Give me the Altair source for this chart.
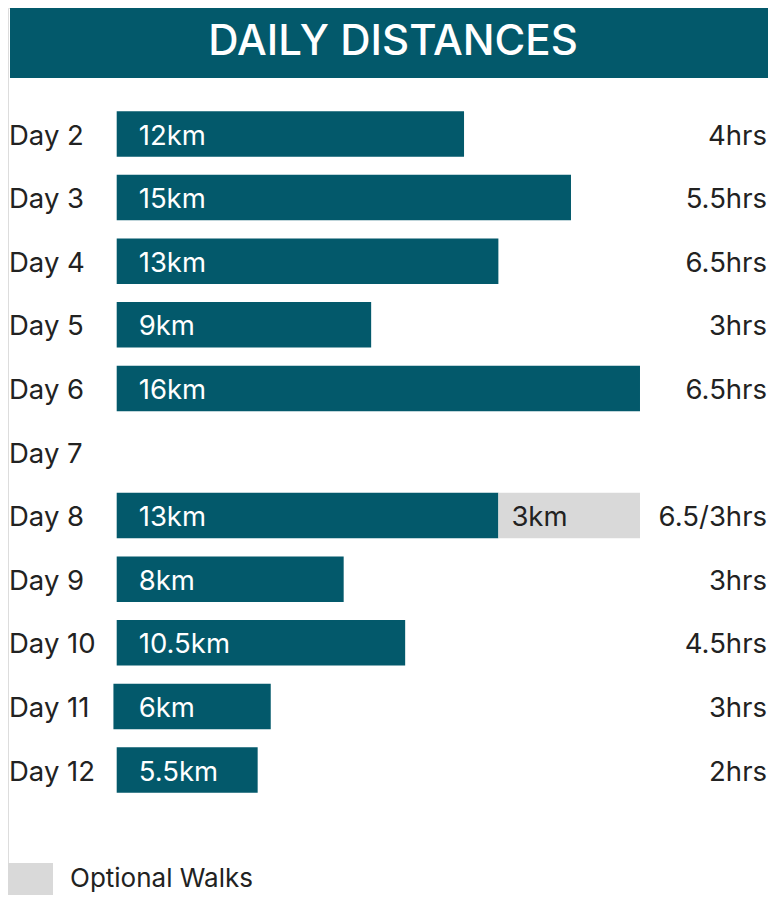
import altair as alt
import pandas as pd

# ---- data ----
days = ["Day 2", "Day 3", "Day 4", "Day 5", "Day 6", "Day 7",
        "Day 8", "Day 9", "Day 10", "Day 11", "Day 12"]
km_labels = ["12km", "15km", "13km", "9km", "16km", "",
             "13km", "8km", "10.5km", "6km", "5.5km"]
# drawn bar lengths (as drawn in the original, in km-like units)
bar_start = [0, 0, 0, 0, 0, 0, 0, 0, 0, -0.1, 0]
bar_length = [10.62, 13.89, 11.67, 7.78, 16.0, 0, 11.67, 6.94, 8.82, 4.81, 4.31]
optional_length = [0, 0, 0, 0, 0, 0, 4.33, 0, 0, 0, 0]
optional_labels = ["", "", "", "", "", "", "3km", "", "", "", ""]
hours = ["4hrs", "5.5hrs", "6.5hrs", "3hrs", "6.5hrs", "",
         "6.5/3hrs", "3hrs", "4.5hrs", "3hrs", "2hrs"]
title_text = "DAILY DISTANCES"
legend_label = "Optional Walks"

TEAL = "#03596b"
GREY = "#d9d9d9"
TXT = "#222222"
FONT = "Inter"

df = pd.DataFrame({
    "day": days,
    "km": km_labels,
    "start": bar_start,
    "end": [s + l for s, l in zip(bar_start, bar_length)],
    "opt_end": [s + l + o for s, l, o in zip(bar_start, bar_length, optional_length)],
    "opt": optional_length,
    "opt_label": optional_labels,
    "hours": hours,
})
bars_df = df[df["end"] > df["start"]]
opt_df = df[df["opt"] > 0]
one = pd.DataFrame({"t": [title_text], "l": [legend_label]})

W, H = 760, 887
# value 0 at chart x 108.7, 32.706 px per unit
x0, ppu = 108.7, 32.706
xscale = alt.Scale(domain=[-x0 / ppu, (W - x0) / ppu], nice=False, zero=False)
yscale = alt.Scale(domain=days, range=[94.2, 793.8], paddingInner=0.285, paddingOuter=0.1425)
X = lambda f: alt.X(f, type="quantitative", scale=xscale, axis=None)
Y = alt.Y("day:N", scale=yscale, axis=None, sort=days)

banner = alt.Chart(one).mark_rect(color=TEAL).encode(
    x=alt.value(2), x2=alt.value(W), y=alt.value(0), y2=alt.value(70))
title = alt.Chart(one).mark_text(
    color="white", font=FONT, fontSize=42, fontWeight=500, align="center",
    baseline="alphabetic").encode(x=alt.value(385), y=alt.value(47), text="t:N")

bars = alt.Chart(bars_df).mark_bar(color=TEAL).encode(
    x=X("start"), x2="end", y=Y)
opt_bars = alt.Chart(opt_df).mark_bar(color=GREY).encode(
    x=X("end"), x2="opt_end", y=Y)

FS = 27.5
day_text = alt.Chart(df).mark_text(
    color=TXT, font=FONT, fontSize=FS, align="left", baseline="alphabetic", dy=10.5
).encode(x=alt.value(1), y=Y, text="day:N")
km_text = alt.Chart(bars_df).mark_text(
    color="white", font=FONT, fontSize=FS, align="left", baseline="alphabetic", dx=22, dy=10.5
).encode(x=alt.X("zero:Q", scale=xscale, axis=None), y=Y, text="km:N").transform_calculate(zero="0")
opt_text = alt.Chart(opt_df).mark_text(
    color=TXT, font=FONT, fontSize=FS, align="left", baseline="alphabetic", dx=13, dy=10.5
).encode(x=X("end"), y=Y, text="opt_label:N")
hrs_text = alt.Chart(df).mark_text(
    color=TXT, font=FONT, fontSize=FS, align="right", baseline="alphabetic", dy=10.5
).encode(x=alt.value(W - 1), y=Y, text="hours:N")

legend_box = alt.Chart(one).mark_rect(color=GREY).encode(
    x=alt.value(0), x2=alt.value(45), y=alt.value(855), y2=alt.value(H))
legend_text = alt.Chart(one).mark_text(
    color=TXT, font=FONT, fontSize=26, align="left", baseline="alphabetic"
).encode(x=alt.value(62), y=alt.value(879), text="l:N")

chart = alt.layer(
    banner, title, bars, opt_bars, day_text, km_text, opt_text, hrs_text,
    legend_box, legend_text
).properties(
    width=W, height=H, padding=0, autosize=alt.AutoSizeParams(type="none")
).configure_view(stroke=None).configure(background="white")

chart.save("out.html", embed_options={"renderer": "svg", "actions": False})
